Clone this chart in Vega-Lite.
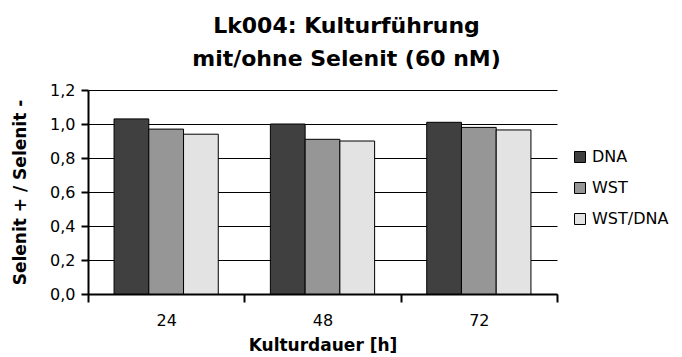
{
  "$schema": "https://vega.github.io/schema/vega-lite/v6.json",
  "autosize": {"type": "none"},
  "padding": {"left": 88, "top": 90, "right": 125, "bottom": 63},
  "width": 469,
  "height": 204,
  "title": {
    "text": ["Lk004: Kulturführung", "mit/ohne Selenit (60 nM)"],
    "font": "DejaVu Sans",
    "fontSize": 22,
    "fontWeight": "bold",
    "color": "#000",
    "anchor": "middle",
    "frame": "group",
    "dx": 24,
    "lineHeight": 33,
    "offset": 11
  },
  "data": {
    "values": [
      {"dauer": "24", "serie": "DNA", "wert": 1.03},
      {"dauer": "24", "serie": "WST", "wert": 0.97},
      {"dauer": "24", "serie": "WST/DNA", "wert": 0.94},
      {"dauer": "48", "serie": "DNA", "wert": 1.0},
      {"dauer": "48", "serie": "WST", "wert": 0.91},
      {"dauer": "48", "serie": "WST/DNA", "wert": 0.9},
      {"dauer": "72", "serie": "DNA", "wert": 1.01},
      {"dauer": "72", "serie": "WST", "wert": 0.98},
      {"dauer": "72", "serie": "WST/DNA", "wert": 0.965}
    ]
  },
  "mark": {"type": "bar", "stroke": "#000", "strokeWidth": 1},
  "encoding": {
    "x": {
      "field": "dauer",
      "type": "nominal",
      "scale": {"paddingInner": 0, "paddingOuter": 0},
      "axis": {
        "title": "Kulturdauer [h]",
        "labelAngle": 0,
        "tickBand": "extent",
        "tickSize": 8,
        "tickWidth": 2,
        "tickColor": "#000",
        "domainColor": "#000",
        "domainWidth": 2,
        "labelFont": "DejaVu Sans",
        "labelFontSize": 16,
        "labelColor": "#000",
        "labelPadding": 10,
        "titleFont": "DejaVu Sans",
        "titleFontSize": 17,
        "titleFontWeight": "bold",
        "titleColor": "#000",
        "titlePadding": 9,
        "grid": false
      }
    },
    "xOffset": {
      "field": "serie",
      "type": "nominal",
      "scale": {"paddingInner": 0, "paddingOuter": 0.75}
    },
    "y": {
      "field": "wert",
      "type": "quantitative",
      "scale": {"domain": [0, 1.2], "nice": false},
      "axis": {
        "title": "Selenit + / Selenit -",
        "values": [0, 0.2, 0.4, 0.6, 0.8, 1.0, 1.2],
        "format": ".1f",
        "tickSize": 7,
        "tickWidth": 2,
        "tickColor": "#000",
        "domainColor": "#000",
        "domainWidth": 2,
        "grid": true,
        "gridColor": "#000",
        "gridWidth": 1,
        "gridOpacity": 1,
        "labelFont": "DejaVu Sans",
        "labelFontSize": 16,
        "labelColor": "#000",
        "labelPadding": 6,
        "titleFont": "DejaVu Sans",
        "titleFontSize": 17,
        "titleFontWeight": "bold",
        "titleColor": "#000",
        "titlePadding": 20
      }
    },
    "fill": {
      "field": "serie",
      "type": "nominal",
      "scale": {"domain": ["DNA", "WST", "WST/DNA"], "range": ["#404040", "#969696", "#e3e3e3"]},
      "legend": {
        "title": null,
        "orient": "none",
        "legendX": 484,
        "legendY": 59,
        "symbolType": "square",
        "symbolSize": 121,
        "symbolStrokeColor": "#000",
        "symbolStrokeWidth": 1,
        "labelFont": "DejaVu Sans",
        "labelFontSize": 16,
        "labelColor": "#000",
        "rowPadding": 15,
        "labelOffset": 4
      }
    }
  },
  "config": {
    "view": {"stroke": null},
    "locale": {
      "number": {"decimal": ",", "thousands": ".", "grouping": [3], "currency": ["", " €"]}
    }
  }
}
